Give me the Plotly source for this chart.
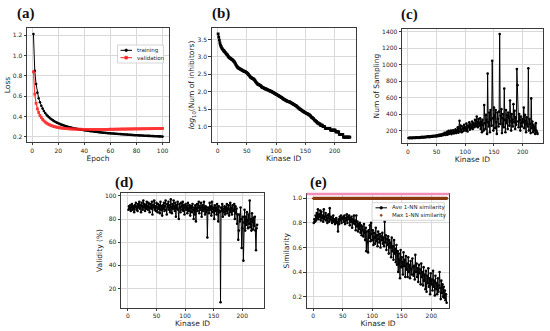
import plotly.graph_objects as go

# ---------------- data ----------------
epochs = list(range(1, 101))
train_loss = [
    1.21, 0.85, 0.72, 0.635, 0.58, 0.54, 0.505, 0.478, 0.455, 0.435,
    0.418, 0.404, 0.392, 0.381, 0.371, 0.362, 0.354, 0.347, 0.340, 0.334,
    0.328, 0.323, 0.318, 0.313, 0.309, 0.305, 0.301, 0.297, 0.294, 0.291,
    0.288, 0.285, 0.282, 0.279, 0.277, 0.274, 0.272, 0.270, 0.268, 0.266,
    0.264, 0.262, 0.260, 0.258, 0.256, 0.255, 0.253, 0.251, 0.250, 0.248,
    0.247, 0.245, 0.244, 0.242, 0.241, 0.240, 0.238, 0.237, 0.236, 0.235,
    0.234, 0.233, 0.232, 0.231, 0.230, 0.229, 0.228, 0.227, 0.226, 0.225,
    0.224, 0.223, 0.222, 0.221, 0.221, 0.220, 0.219, 0.218, 0.217, 0.217,
    0.216, 0.215, 0.214, 0.214, 0.213, 0.212, 0.212, 0.211, 0.210, 0.210,
    0.209, 0.208, 0.208, 0.207, 0.206, 0.206, 0.205, 0.205, 0.204, 0.203,
]
val_loss = [
    0.84, 0.62, 0.53, 0.475, 0.44, 0.41, 0.39, 0.372, 0.358, 0.346,
    0.336, 0.328, 0.321, 0.315, 0.310, 0.305, 0.301, 0.298, 0.295, 0.292,
    0.290, 0.288, 0.286, 0.285, 0.283, 0.282, 0.281, 0.280, 0.279, 0.278,
    0.278, 0.277, 0.277, 0.276, 0.276, 0.275, 0.275, 0.275, 0.274, 0.274,
    0.274, 0.274, 0.274, 0.273, 0.273, 0.273, 0.273, 0.273, 0.273, 0.273,
    0.273, 0.273, 0.273, 0.274, 0.274, 0.274, 0.274, 0.274, 0.275, 0.275,
    0.275, 0.275, 0.275, 0.276, 0.276, 0.276, 0.276, 0.277, 0.277, 0.277,
    0.277, 0.277, 0.278, 0.278, 0.278, 0.278, 0.278, 0.279, 0.279, 0.279,
    0.279, 0.279, 0.280, 0.280, 0.280, 0.280, 0.280, 0.281, 0.281, 0.281,
    0.281, 0.281, 0.282, 0.282, 0.282, 0.282, 0.282, 0.283, 0.283, 0.283,
]

log_inhibitors = [
    3.66, 3.57, 3.48, 3.40, 3.34, 3.30, 3.26, 3.24, 3.21, 3.19,
    3.17, 3.15, 3.13, 3.11, 3.09, 3.07, 3.05, 3.02, 3.00, 2.98,
    2.97, 2.96, 2.95, 2.93, 2.92, 2.91, 2.89, 2.87, 2.85, 2.82,
    2.79, 2.76, 2.73, 2.71, 2.69, 2.68, 2.67, 2.66, 2.65, 2.64,
    2.63, 2.62, 2.61, 2.60, 2.59, 2.58, 2.58, 2.57, 2.56, 2.55,
    2.53, 2.51, 2.49, 2.47, 2.45, 2.43, 2.41, 2.40, 2.39, 2.38,
    2.37, 2.36, 2.34, 2.32, 2.29, 2.27, 2.25, 2.23, 2.22, 2.21,
    2.20, 2.19, 2.18, 2.17, 2.15, 2.13, 2.12, 2.11, 2.11, 2.10,
    2.09, 2.08, 2.08, 2.07, 2.06, 2.05, 2.05, 2.04, 2.03, 2.02,
    2.02, 2.01, 2.00, 1.99, 1.98, 1.97, 1.96, 1.95, 1.94, 1.93,
    1.92, 1.91, 1.90, 1.89, 1.88, 1.87, 1.86, 1.85, 1.84, 1.83,
    1.81, 1.80, 1.79, 1.78, 1.77, 1.76, 1.75, 1.74, 1.73, 1.72,
    1.72, 1.71, 1.71, 1.70, 1.69, 1.68, 1.67, 1.66, 1.65, 1.64,
    1.63, 1.62, 1.61, 1.60, 1.59, 1.57, 1.56, 1.54, 1.53, 1.51,
    1.50, 1.49, 1.48, 1.46, 1.45, 1.44, 1.43, 1.42, 1.41, 1.40,
    1.39, 1.38, 1.38, 1.36, 1.36, 1.34, 1.34, 1.32, 1.30, 1.28,
    1.26, 1.26, 1.23, 1.23, 1.20, 1.18, 1.18, 1.15, 1.15, 1.11,
    1.11, 1.11, 1.08, 1.08, 1.08, 1.04, 1.04, 1.04, 1.04, 1.00,
    1.00, 1.00, 1.00, 0.95, 0.95, 0.95, 0.95, 0.95, 0.95, 0.95,
    0.95, 0.95, 0.90, 0.90, 0.90, 0.90, 0.90, 0.90, 0.90, 0.90,
    0.90, 0.85, 0.85, 0.85, 0.85, 0.85, 0.85, 0.78, 0.78, 0.78,
    0.78, 0.78, 0.78, 0.78, 0.70, 0.70, 0.70, 0.70, 0.70, 0.70,
    0.70, 0.70, 0.70, 0.70, 0.70, 0.70,
]

num_sampling = [
    110, 112, 108, 115, 110, 113, 109, 112, 116, 111,
    114, 110, 118, 112, 115, 120, 113, 117, 112, 119,
    116, 121, 114, 119, 125, 117, 122, 118, 126, 120,
    124, 119, 128, 122, 130, 125, 121, 132, 127, 124,
    133, 126, 130, 138, 128, 135, 131, 140, 129, 136,
    142, 133, 139, 148, 136, 145, 152, 138, 147, 158,
    144, 162, 150, 172, 146, 168, 155, 185, 150, 176,
    198, 160, 188, 170, 200, 158, 195, 175, 205, 165,
    190, 178, 215, 170, 200, 185, 240, 175, 225, 320,
    190, 260, 210, 180, 250, 230, 195, 270, 215, 240,
    200, 285, 225, 190, 260, 240, 300, 210, 275, 230,
    250, 310, 220, 290, 265, 240, 330, 280, 255, 370,
    300, 240, 340, 260, 290, 350, 220, 310, 180, 330,
    270, 200, 510, 290, 220, 390, 330, 160, 890, 300,
    250, 420, 180, 450, 330, 260, 1045, 350, 200, 480,
    380, 230, 450, 300, 160, 420, 340, 250, 430, 1370,
    280, 380, 460, 170, 350, 400, 240, 710, 330, 180,
    450, 290, 390, 220, 420, 360, 260, 565, 310, 200,
    400, 330, 250, 520, 300, 440, 220, 360, 270, 945,
    750, 310, 240, 400, 330, 200, 370, 290, 250, 340,
    300, 480, 230, 390, 320, 180, 360, 280, 250, 955,
    200, 340, 280, 170, 590, 230, 310, 180, 270, 200,
    250, 160, 290, 200, 180, 160,
]

validity = [
    88, 91, 89, 92, 87, 90, 93, 88, 91, 89,
    86, 92, 90, 94, 88, 91, 87, 93, 90, 95,
    89, 92, 86, 94, 91, 88, 96, 90, 93, 87,
    92, 89, 95, 91, 88, 94, 90, 86, 93, 91,
    89, 95, 84, 92, 90, 96, 88, 91, 87, 94,
    90, 86, 93, 89, 92, 85, 95, 88, 91, 83,
    92, 89, 94, 87, 91, 96, 88, 84, 93, 90,
    95, 88, 92, 86, 97, 90, 85, 93, 89, 96,
    91, 87, 94, 82, 92, 89, 95, 88, 80, 93,
    90, 86, 94, 91, 88, 95, 87, 92, 84, 90,
    93, 88, 91, 85, 94, 89, 87, 92, 83, 90,
    91, 86, 93, 88, 80, 90, 84, 92, 78, 89,
    93, 87, 90, 95, 85, 91, 88, 94, 82, 90,
    92, 87, 95, 89, 84, 91, 86, 90, 64, 88,
    90, 85, 94, 88, 91, 83, 95, 89, 86, 90,
    80, 92, 87, 90, 84, 93, 88, 78, 91, 86,
    87, 8, 90, 87, 93, 82, 89, 86, 91, 84,
    90, 87, 93, 85, 89, 92, 83, 88, 94, 86,
    90, 84, 92, 87, 88, 93, 80, 91, 85, 89,
    76, 84, 62, 70, 84, 78, 90, 80, 55, 72,
    82, 44, 77, 88, 70, 82, 75, 86, 79, 72,
    84, 76, 96, 73, 80, 70, 85, 78, 71, 81,
    74, 82, 70, 53, 72, 75,
]

ave_sim = [
    0.80, 0.83, 0.81, 0.86, 0.82, 0.88, 0.84, 0.91, 0.83, 0.87,
    0.85, 0.90, 0.82, 0.89, 0.84, 0.86, 0.81, 0.91, 0.83, 0.85,
    0.88, 0.82, 0.86, 0.80, 0.84, 0.87, 0.81, 0.92, 0.83, 0.85,
    0.82, 0.80, 0.84, 0.86, 0.81, 0.83, 0.79, 0.82, 0.84, 0.80,
    0.81, 0.73, 0.83, 0.79, 0.85, 0.82, 0.86, 0.80, 0.84, 0.83,
    0.85, 0.81, 0.86, 0.79, 0.84, 0.82, 0.87, 0.80, 0.85, 0.83,
    0.86, 0.78, 0.84, 0.81, 0.85, 0.76, 0.83, 0.80, 0.86, 0.79,
    0.82, 0.74, 0.86, 0.77, 0.81, 0.73, 0.79, 0.75, 0.80, 0.72,
    0.78, 0.70, 0.77, 0.74, 0.69, 0.79, 0.72, 0.66, 0.76, 0.57,
    0.73, 0.64, 0.56, 0.74, 0.68, 0.78, 0.65, 0.80, 0.71, 0.66,
    0.74, 0.62, 0.72, 0.68, 0.63, 0.76, 0.65, 0.70, 0.61, 0.73,
    0.67, 0.64, 0.71, 0.60, 0.69, 0.66, 0.72, 0.63, 0.68, 0.61,
    0.81, 0.64, 0.70, 0.58, 0.67, 0.62, 0.69, 0.55, 0.66, 0.60,
    0.64, 0.52, 0.68, 0.57, 0.61, 0.50, 0.66, 0.55, 0.59, 0.48,
    0.62, 0.46, 0.57, 0.40, 0.55, 0.50, 0.35, 0.58, 0.44, 0.52,
    0.48, 0.38, 0.56, 0.45, 0.50, 0.36, 0.53, 0.42, 0.47, 0.36,
    0.52, 0.40, 0.46, 0.35, 0.49, 0.42, 0.38, 0.51, 0.44, 0.37,
    0.45, 0.34, 0.54, 0.40, 0.47, 0.36, 0.43, 0.32, 0.46, 0.39,
    0.42, 0.30, 0.47, 0.36, 0.40, 0.29, 0.44, 0.33, 0.38, 0.26,
    0.41, 0.24, 0.37, 0.31, 0.43, 0.28, 0.35, 0.22, 0.39, 0.30,
    0.34, 0.25, 0.41, 0.28, 0.33, 0.21, 0.37, 0.26, 0.31, 0.22,
    0.35, 0.24, 0.29, 0.40, 0.27, 0.18, 0.33, 0.23, 0.30, 0.20,
    0.28, 0.19, 0.25, 0.17, 0.22, 0.15,
]

max_sim = [
    1, 1, 1, 1, 1, 1, 1, 1, 1, 1, 1, 1, 1, 1, 1, 1, 1, 1, 1, 1, 1, 1, 1, 1, 1,
    1, 1, 1, 1, 1, 1, 1, 1, 1, 1, 1, 1, 1, 1, 1, 1, 1, 1, 1, 1, 1, 1, 1, 1, 1,
    1, 1, 1, 1, 1, 1, 1, 1, 1, 1, 1, 1, 1, 1, 1, 1, 1, 1, 1, 1, 1, 1, 1, 1, 1,
    1, 1, 1, 1, 1, 1, 1, 1, 1, 1, 1, 1, 1, 1, 1, 1, 1, 1, 1, 1, 1, 1, 1, 1, 1,
    1, 1, 1, 1, 1, 1, 1, 1, 1, 1, 1, 1, 1, 1, 1, 1, 1, 1, 1, 1, 1, 1, 1, 1, 1,
    1, 1, 1, 1, 1, 1, 1, 1, 1, 1, 1, 1, 1, 1, 1, 1, 1, 1, 1, 1, 1, 1, 1, 1, 1,
    1, 1, 1, 1, 1, 1, 1, 1, 1, 1, 1, 1, 1, 1, 1, 1, 1, 1, 1, 1, 1, 1, 1, 1, 1,
    1, 1, 1, 1, 1, 1, 1, 1, 1, 1, 1, 1, 1, 1, 1, 1, 1, 1, 1, 1, 1, 1, 1, 1, 1,
    1, 1, 1, 1, 1, 1, 1, 1, 1, 1, 1, 1, 1, 1, 1, 1, 1, 1, 1, 1, 1, 1, 1, 1, 1,
    1,
]

ids_b = list(range(1, len(log_inhibitors) + 1))
ids_c = list(range(1, len(num_sampling) + 1))
ids_d = list(range(1, len(validity) + 1))
ids_e = list(range(1, len(ave_sim) + 1))
ids_m = list(range(1, len(max_sim) + 1))

# ---------------- figure ----------------
W, H = 550, 331


def X(px):
    return px / W


def Y(py):
    return 1 - py / H


FONT = "DejaVu Sans"
TXT = "#262626"

fig = go.Figure()

line_kw = dict(mode="lines+markers", line=dict(color="black", width=1),
               marker=dict(color="black", size=2.6), showlegend=False)

fig.add_trace(go.Scatter(x=epochs, y=train_loss, xaxis="x", yaxis="y", **line_kw))
fig.add_trace(go.Scatter(x=epochs, y=val_loss, xaxis="x", yaxis="y", mode="lines+markers",
                         line=dict(color="#ff2020", width=1.2),
                         marker=dict(color="#ff2020", size=2.8, symbol="square"),
                         opacity=0.9, showlegend=False))
fig.add_trace(go.Scatter(x=ids_b, y=log_inhibitors, xaxis="x2", yaxis="y2", mode="lines+markers",
                         line=dict(color="black", width=1.2),
                         marker=dict(color="black", size=2.8, symbol="square"), showlegend=False))
fig.add_trace(go.Scatter(x=ids_c, y=num_sampling, xaxis="x3", yaxis="y3", **line_kw))
fig.add_trace(go.Scatter(x=ids_d, y=validity, xaxis="x4", yaxis="y4", **line_kw))
fig.add_trace(go.Scatter(x=ids_e, y=ave_sim, xaxis="x5", yaxis="y5", **line_kw))
fig.add_trace(go.Scatter(x=ids_m, y=max_sim, xaxis="x5", yaxis="y5", mode="markers",
                         marker=dict(color="#8b3a12", size=3.2), showlegend=False))


def ax(domain, rng, anchor, title=None, **kw):
    d = dict(domain=domain, range=rng, anchor=anchor, showline=True, linecolor="#3a3a3a",
             linewidth=0.8, mirror=True, showgrid=True, gridcolor="#d9d9d9", gridwidth=0.8,
             zeroline=False, ticks="outside", ticklen=2.5, tickwidth=0.7, tickcolor="#3a3a3a",
             automargin=False,
             tickfont=dict(size=6, family=FONT, color=TXT))
    if title is not None:
        d["title"] = dict(text=title, font=dict(size=7.5, family=FONT, color=TXT), standoff=1)
    d.update(kw)
    return d


ya_dom = [Y(142), Y(28)]
kin_ticks = dict(tickvals=[0, 50, 100, 150, 200])

fig.update_layout(
    width=W, height=H, margin=dict(l=0, r=0, t=0, b=0, autoexpand=False),
    paper_bgcolor="white", plot_bgcolor="white", showlegend=False,
    xaxis=ax([X(27), X(169)], [-3.95, 104.95], "y", "Epoch", tickvals=[0, 20, 40, 60, 80, 100]),
    yaxis=ax(ya_dom, [0.15, 1.27], "x", "Loss", tickvals=[0.2, 0.4, 0.6, 0.8, 1.0, 1.2],
             tickformat=".1f"),
    xaxis2=ax([X(211.7), X(355.7)], [-10, 236], "y2", "Kinase ID", **kin_ticks),
    yaxis2=ax(ya_dom, [0.56, 3.83], "x2", "<i>log</i><sub>10</sub>(Num of inhibitors)",
              tickvals=[1.0, 1.5, 2.0, 2.5, 3.0, 3.5], tickformat=".1f"),
    xaxis3=ax([X(402), X(542.7)], [-10.3, 235], "y3", "Kinase ID", **kin_ticks),
    yaxis3=ax([Y(143), Y(29)], [50, 1430], "x3", "Num of Sampling",
              tickvals=[200, 400, 600, 800, 1000, 1200, 1400]),
    xaxis4=ax([X(121), X(264)], [-12, 238], "y4", "Kinase ID", **kin_ticks),
    yaxis4=ax([Y(307.7), Y(193.3)], [3.3, 102.3], "x4", "Validity (%)",
              tickvals=[20, 40, 60, 80, 100]),
    xaxis5=ax([X(306.7), X(449.3)], [-11, 230.5], "y5", "Kinase ID", **kin_ticks),
    yaxis5=ax([Y(307.7), Y(194)], [0.11, 1.035], "x5", "Similarity",
              tickvals=[0.2, 0.4, 0.6, 0.8, 1.0], tickformat=".1f"),
)

shapes = []
annotations = []

# pink band along the top edge of panel (e)
shapes.append(dict(type="line", xref="x5 domain", yref="y5 domain", x0=0, x1=1, y0=1, y1=1,
                   line=dict(color="#f28cb8", width=2.5), layer="above"))

# panel labels
for lab, cx, cy in [("(a)", 26, 14), ("(b)", 221, 14), ("(c)", 409, 15),
                    ("(d)", 124, 182), ("(e)", 318, 182)]:
    annotations.append(dict(text=f"<b>{lab}</b>", xref="paper", yref="paper", x=X(cx), y=Y(cy),
                            showarrow=False, xanchor="center", yanchor="middle",
                            font=dict(size=15, family="Liberation Serif", color="#111")))


def legend_box(x0, y0, x1, y1):
    shapes.append(dict(type="rect", xref="paper", yref="paper", x0=X(x0), x1=X(x1),
                       y0=Y(y1), y1=Y(y0), line=dict(color="#cccccc", width=0.8),
                       fillcolor="rgba(255,255,255,0.85)", layer="above"))


def legend_line(x0, x1, y, color):
    shapes.append(dict(type="line", xref="paper", yref="paper", x0=X(x0), x1=X(x1),
                       y0=Y(y), y1=Y(y), line=dict(color=color, width=1), layer="above"))


def legend_marker(cx, cy, color, r=1.4, kind="circle"):
    shapes.append(dict(type=kind if kind == "circle" else "rect", xref="paper", yref="paper",
                       x0=X(cx - r), x1=X(cx + r), y0=Y(cy + r), y1=Y(cy - r),
                       line=dict(color=color, width=0.5), fillcolor=color, layer="above"))


def legend_text(x, y, text):
    annotations.append(dict(text=text, xref="paper", yref="paper", x=X(x), y=Y(y),
                            showarrow=False, xanchor="left", yanchor="middle",
                            font=dict(size=5.5, family=FONT, color=TXT)))


# legend (a)
legend_box(117.5, 45, 163.5, 63)
legend_line(120.5, 132, 50.3, "black")
legend_marker(126.2, 50.3, "black")
legend_text(134.5, 50.3, "training")
legend_line(120.5, 132, 57.7, "#ff2020")
legend_marker(126.2, 57.7, "#ff2020", kind="square")
legend_text(134.5, 57.7, "validation")

# legend (e)
legend_box(372, 202.7, 444.3, 220.3)
legend_line(375.5, 387, 207.8, "black")
legend_marker(381.2, 207.8, "black")
legend_text(390, 207.8, "Ave 1-NN similarity")
legend_marker(381.2, 215.3, "#8b3a12", r=1.1)
legend_text(390, 215.3, "Max 1-NN similarity")

fig.update_layout(shapes=shapes, annotations=annotations)

fig.write_html(
    "out.html",
    config={"displayModeBar": False},
    post_script="document.body.style.margin='0';document.body.style.padding='0';"
                "document.documentElement.style.overflow='hidden';",
)
